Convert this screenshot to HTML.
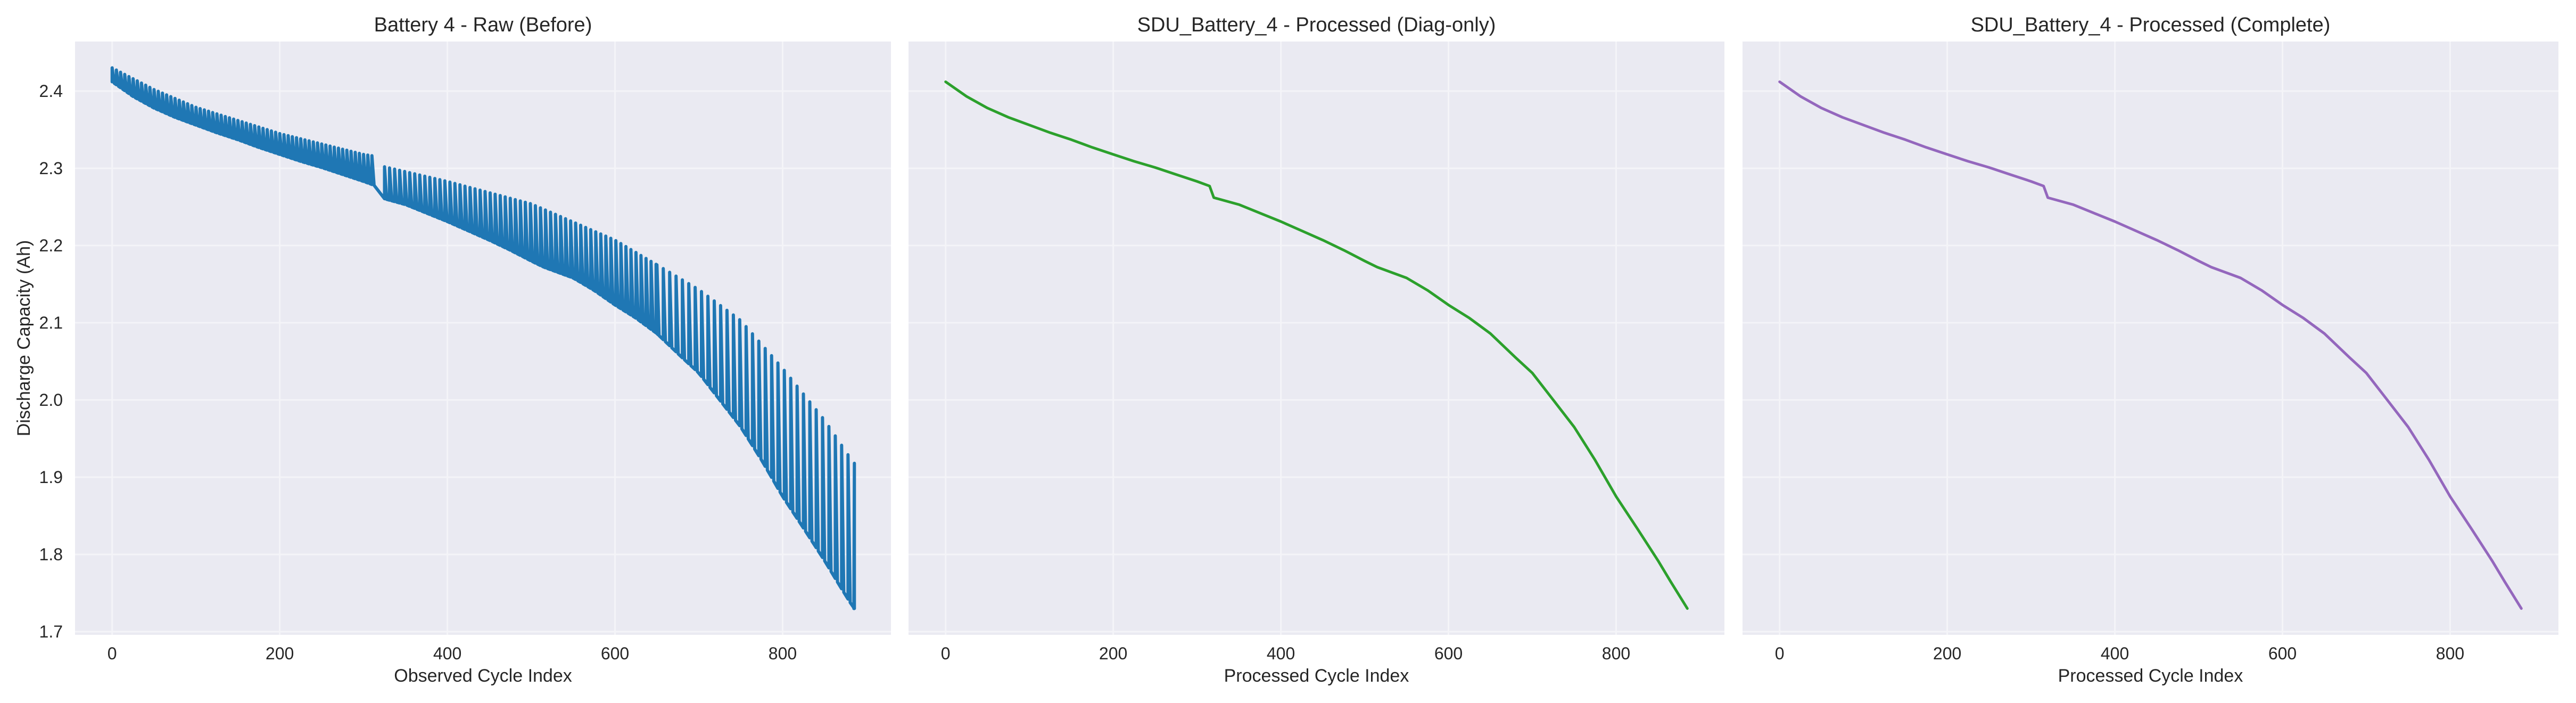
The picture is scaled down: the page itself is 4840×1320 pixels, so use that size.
<!DOCTYPE html>
<html><head><meta charset="utf-8">
<style>
html,body{margin:0;padding:0;background:#fff;}
svg{display:block;font-family:"Liberation Sans",Arial,sans-serif;}
</style></head>
<body>
<svg id="fig" width="4840" height="1320" viewBox="0 0 4840 1320" xmlns="http://www.w3.org/2000/svg"></svg>
<script>
// ---- data ----
const xTicks = [0, 200, 400, 600, 800];
const yTicks = [1.7, 1.8, 1.9, 2.0, 2.1, 2.2, 2.3, 2.4];
const panelTitles = ["Battery 4 - Raw (Before)", "SDU_Battery_4 - Processed (Diag-only)", "SDU_Battery_4 - Processed (Complete)"];
const xLabels = ["Observed Cycle Index", "Processed Cycle Index", "Processed Cycle Index"];
const seriesColors = ["#1f77b4", "#2ca02c", "#9467bd"];
// processed / baseline capacity curve
const procCycles = [0, 25, 50, 75, 100, 125, 150, 175, 200, 225, 250, 275, 300, 315, 320, 350, 375, 400, 425, 450, 475, 500, 515, 550, 575, 600, 625, 650, 680, 700, 725, 750, 775, 800, 825, 850, 865, 885];
const procCap = [2.412, 2.393, 2.378, 2.366, 2.356, 2.346, 2.337, 2.327, 2.318, 2.309, 2.301, 2.292, 2.283, 2.277, 2.262, 2.253, 2.242, 2.231, 2.219, 2.207, 2.194, 2.180, 2.172, 2.158, 2.142, 2.123, 2.106, 2.086, 2.055, 2.035, 2.000, 1.965, 1.922, 1.875, 1.834, 1.792, 1.765, 1.730];
// raw spike (upper envelope) capacity
const peakCycles = [0, 50, 100, 200, 300, 312, 325, 400, 500, 600, 700, 750, 800, 850, 885];
const peakCap = [2.430, 2.402, 2.379, 2.345, 2.318, 2.316, 2.302, 2.283, 2.254, 2.207, 2.143, 2.103, 2.041, 1.974, 1.918];
// spike spacing segments: [start, end, period]
const spikeSegments = [[0, 313, 5], [325, 650, 6], [650, 886, 7.6]];

// ---- layout ----
const NS = "http://www.w3.org/2000/svg";
const svg = document.getElementById("fig");
const panelLeft = [141, 1707, 3274];
const panelW = 1533, plotTop = 78, plotBottom = 1192;
const xMin = -44.25, xMax = 929.25, yMin = 1.6959, yMax = 2.4641;
function xs(p, c) { return panelLeft[p] + (c - xMin) / (xMax - xMin) * panelW; }
function ys(v) { return plotTop + (yMax - v) / (yMax - yMin) * (plotBottom - plotTop); }
function interp(cs, vs, c) {
  if (c <= cs[0]) return vs[0];
  for (let i = 1; i < cs.length; i++) if (c <= cs[i]) { const t = (c - cs[i-1]) / (cs[i] - cs[i-1]); return vs[i-1] + t * (vs[i] - vs[i-1]); }
  return vs[vs.length - 1];
}
function mk(tag, attrs, parent) { const e = document.createElementNS(NS, tag); for (const k in attrs) e.setAttribute(k, attrs[k]); (parent || svg).appendChild(e); return e; }

for (let p = 0; p < 3; p++) {
  const g = mk("g", {});
  
  
  const bg = mk("rect", {x: panelLeft[p], y: plotTop, width: panelW, height: plotBottom - plotTop, fill: "#eaeaf2"}, g);
  
  
  yTicks.forEach(v => {
    const l = mk("line", {x1: panelLeft[p], x2: panelLeft[p] + panelW, y1: ys(v), y2: ys(v), stroke: "#f4f4f8", "stroke-width": 3}, g);
    
    
    if (p === 0) {
      const t = mk("text", {x: 118, y: ys(v) + 11, "text-anchor": "end", "font-size": 32, fill: "#262626"}, g);
      t.textContent = v.toFixed(1);
      
      
    }
  });
  xTicks.forEach(c => {
    const l = mk("line", {x1: xs(p, c), x2: xs(p, c), y1: plotTop, y2: plotBottom, stroke: "#f4f4f8", "stroke-width": 3}, g);
    
    
    const t = mk("text", {x: xs(p, c), y: 1238, "text-anchor": "middle", "font-size": 32, fill: "#262626"}, g);
    t.textContent = c;
    
    
  });
  const tt = mk("text", {x: panelLeft[p] + panelW / 2, y: 59, "text-anchor": "middle", "font-size": 38, fill: "#262626"}, g);
  tt.textContent = panelTitles[p];
  
  
  const xl = mk("text", {x: panelLeft[p] + panelW / 2, y: 1280, "text-anchor": "middle", "font-size": 34, fill: "#262626"}, g);
  xl.textContent = xLabels[p];
  
  

  let pts = [];
  if (p === 0) {
    const spikes = [];
    spikeSegments.forEach(s => { for (let c = s[0]; c < s[1]; c += s[2]) spikes.push(c); });
    spikes.forEach(s => {
      pts.push([s, interp(procCycles, procCap, s)]);
      pts.push([s, interp(peakCycles, peakCap, s)]);
      const d = Math.min(s + 2.6, 885);
      pts.push([d, interp(procCycles, procCap, d)]);
    });
    pts.push([885, interp(procCycles, procCap, 885)]);
  } else {
    procCycles.forEach((c, i) => pts.push([c, procCap[i]]));
  }
  const path = mk("polyline", {points: pts.map(q => xs(p, q[0]).toFixed(1) + "," + ys(q[1]).toFixed(1)).join(" "), fill: "none", stroke: seriesColors[p], "stroke-width": p === 0 ? 6 : 5, "stroke-linejoin": "round", "stroke-linecap": "round"}, g);
  
  
}
const yl = mk("text", {x: 0, y: 0, transform: "translate(56,635) rotate(-90)", "text-anchor": "middle", "font-size": 34, fill: "#262626"});
yl.textContent = "Discharge Capacity (Ah)";


</script>
</body></html>
